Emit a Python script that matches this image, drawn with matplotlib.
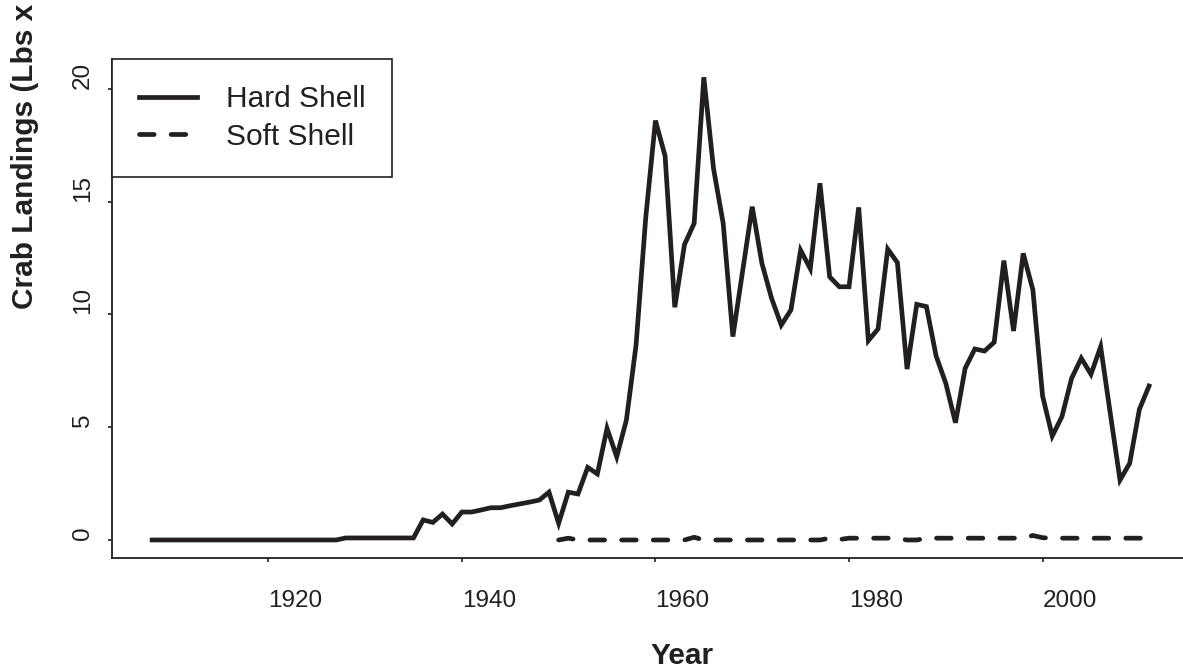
import numpy as np
import matplotlib
matplotlib.use("Agg")
import matplotlib.pyplot as plt

plt.rcParams['font.family'] = ['Liberation Sans', 'DejaVu Sans']

# hard shell landings, 1908-2011
hard_years = np.arange(1908, 2012)
hard = [0.0] * 20 + [0.09] * 8 + [
    0.89, 0.78, 1.15, 0.71, 1.24, 1.24, 1.33, 1.43, 1.43, 1.52,   # 1936-45
    1.60, 1.68, 1.77, 2.12, 0.74, 2.12, 2.04, 3.22, 2.93, 4.95,   # 1946-55
    3.69, 5.32, 8.65, 14.3, 18.6, 17.03, 10.32, 13.1, 14.04, 20.52,  # 1956-65
    16.48, 14.04, 9.02, 11.9, 14.78, 12.27, 10.72, 9.53, 10.2, 12.85,  # 1966-75
    12.03, 15.82, 11.67, 11.23, 11.23, 14.75, 8.84, 9.36, 12.9, 12.3,  # 1976-85
    7.58, 10.45, 10.35, 8.16, 6.95, 5.2, 7.61, 8.47, 8.38, 8.77,   # 1986-95
    12.39, 9.27, 12.71, 11.09, 6.39, 4.61, 5.47, 7.17, 8.06, 7.35,  # 1996-2005
    8.57, 5.6, 2.66, 3.4, 5.79, 6.83,                              # 2006-11
]

# soft shell landings, 1950-2011
soft_years = np.arange(1950, 2012)
soft = [0.0, 0.08] + [0.0] * 12 + [0.12] + [0.0] * 13 + [
    0.08, 0.02, 0.08, 0.08, 0.08, 0.08, 0.08, 0.08, 0.0, 0.0,      # 1978-87
    0.08, 0.08, 0.08, 0.08, 0.08, 0.08, 0.08, 0.08, 0.08, 0.08,    # 1988-97
    0.08, 0.2, 0.1,                                               # 1998-2000
] + [0.08] * 11

x_ticks = [1920, 1940, 1960, 1980, 2000]
y_ticks = [0, 5, 10, 15, 20]

ink = '#231f20'

fig = plt.figure(figsize=(11.83, 6.71), dpi=100)
ax = fig.add_axes([0.0949, 0.1677, 0.9101, 0.7447])

ax.plot(hard_years, hard, color=ink, lw=3.4, solid_joinstyle='miter',
        label='Hard Shell')
ax.plot(soft_years, soft, color=ink, lw=3.4, linestyle=(0, (3.1, 3.6)),
        dash_capstyle='round', label='Soft Shell')

ax.set_xlim(1903.88, 2015.12)
ax.set_ylim(-0.82, 21.34)

for s in ['top', 'right']:
    ax.spines[s].set_visible(False)
for s in ['left', 'bottom']:
    ax.spines[s].set_color(ink)
    ax.spines[s].set_linewidth(1.3)

ax.set_xticks(x_ticks)
ax.set_yticks(y_ticks)
ax.tick_params(axis='both', colors=ink, width=1.2, length=3, labelsize=17.5)
ax.tick_params(axis='x', pad=20)
ax.tick_params(axis='y', pad=10)
for lab in ax.get_xticklabels():
    lab.set_ha('left')
for lab in ax.get_yticklabels():
    lab.set_rotation(90)
    lab.set_va('bottom')

fig.text(0.5495, 0.0105, 'Year', fontsize=21.5, fontweight='bold',
         ha='left', va='baseline', color=ink)
fig.text(0.021, 0.540, 'Crab Landings (Lbs x', fontsize=21.5,
         fontweight='bold', rotation=90, ha='center', va='bottom', color=ink)

leg = ax.legend(loc='upper left', bbox_to_anchor=(0, 1), borderaxespad=0,
                fontsize=21.5, frameon=True, fancybox=False, edgecolor=ink,
                framealpha=1, handlelength=1.95, handletextpad=0.98,
                borderpad=0.88, labelspacing=0.32)
leg.get_frame().set_linewidth(1.2)
for t in leg.get_texts():
    t.set_color(ink)

fig.savefig('out.png', dpi=100)
